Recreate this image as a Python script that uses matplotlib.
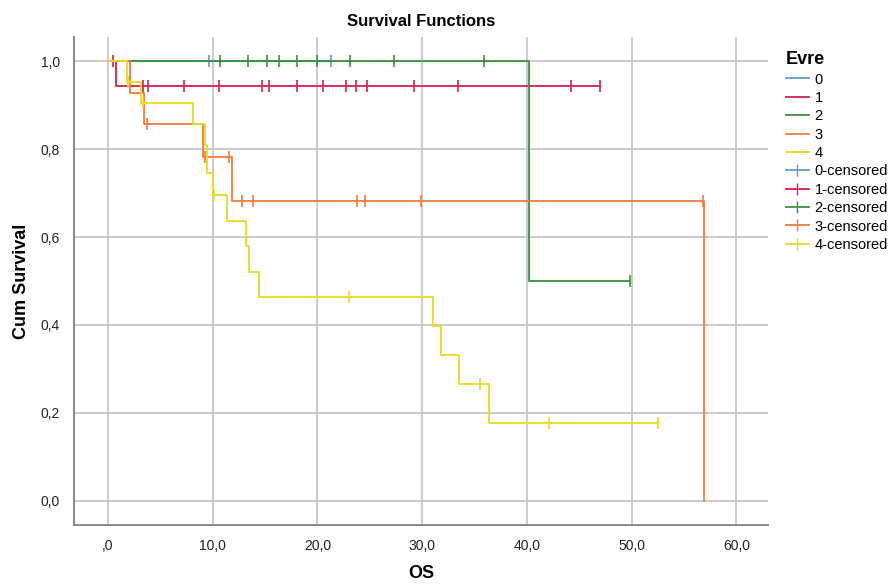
import matplotlib.pyplot as plt
from matplotlib.lines import Line2D

plt.rcParams['font.family'] = ['Liberation Sans', 'DejaVu Sans']

# step curves: event times and survival after each step
t0 = [0, 21.25]
s0 = [1.0, 1.0]
c0 = [9.67, 21.25]

t1 = [0, 0.8, 47.0]
s1 = [1.0, 0.944, 0.944]
c1 = [0.5, 3.3, 3.85, 7.25, 10.6, 14.7, 15.4, 18.0, 20.55, 22.7, 23.7, 24.7, 29.2, 33.4, 44.2, 47.0]

t2 = [0, 40.2, 49.8]
s2 = [1.0, 0.5, 0.5]
c2 = [10.7, 13.4, 15.2, 16.35, 18.0, 20.0, 23.1, 27.3, 35.9, 49.8]

t3 = [0, 2.1, 3.47, 9.1, 11.8, 56.9]
s3 = [1.0, 0.928, 0.857, 0.781, 0.683, 0.0]
c3 = [3.7, 9.3, 11.55, 12.75, 13.8, 23.8, 24.5, 29.9, 56.8]

t4 = [0, 1.8, 3.15, 8.15, 9.25, 9.5, 10.05, 11.4, 13.2, 13.5, 14.45, 31.0, 31.75, 33.5, 36.4, 52.5]
s4 = [1.0, 0.952, 0.905, 0.857, 0.81, 0.745, 0.695, 0.636, 0.58, 0.521, 0.463, 0.398, 0.331, 0.265, 0.177, 0.177]
c4 = [1.9, 3.3, 10.1, 23.0, 35.5, 42.1, 52.5]

groups = ["0", "1", "2", "3", "4"]
colors = ["#5b9bd5", "#d6204b", "#3a933a", "#f47a3c", "#eada1e"]
curves = [(t0, s0, c0), (t1, s1, c1), (t2, s2, c2), (t3, s3, c3), (t4, s4, c4)]


def surv_at(t, s, x):
    v = s[0]
    for ti, si in zip(t, s):
        if ti <= x:
            v = si
    return v


fig = plt.figure(figsize=(8.93, 5.86), dpi=100)
ax = fig.add_axes([0.0829, 0.104, 0.777, 0.833])

for (t, s, c), col in zip(curves, colors):
    ax.step(t, s, where="post", color=col, lw=1.3)
    cy = [surv_at(t, s, x) for x in c]
    ax.plot(c, cy, ls="none", marker="|", ms=9, mew=1.2, color=col)

ax.set_xlim(-3.24, 63.0)
ax.set_ylim(-0.055, 1.055)
ax.set_xticks(range(0, 61, 10))
ax.set_xticklabels([",0", "10,0", "20,0", "30,0", "40,0", "50,0", "60,0"])
ax.set_yticks([0, 0.2, 0.4, 0.6, 0.8, 1.0])
ax.set_yticklabels(["0,0", "0,2", "0,4", "0,6", "0,8", "1,0"])
ax.grid(True, color="#c8c8c8", lw=1.3)
ax.set_axisbelow(True)
ax.spines["top"].set_visible(False)
ax.spines["right"].set_visible(False)
for k in ("left", "bottom"):
    ax.spines[k].set_color("#808080")
    ax.spines[k].set_linewidth(1.3)
ax.tick_params(colors="#222222", labelsize=10, length=0, pad=10)
ax.set_title("Survival Functions", fontsize=12, fontweight="bold", pad=8)
ax.set_xlabel("OS", fontsize=13, fontweight="bold", labelpad=9)
ax.set_ylabel("Cum Survival", fontsize=13, fontweight="bold", labelpad=8)

handles = [Line2D([], [], color=c, lw=1.3) for c in colors]
handles += [Line2D([], [], color=c, lw=1.3, marker="|", ms=9) for c in colors]
labels = groups + [g + "-censored" for g in groups]
leg = fig.legend(handles, labels, loc="upper left", bbox_to_anchor=(0.865, 0.935),
                 frameon=False, fontsize=10.5, title="Evre", handlelength=1.6,
                 labelspacing=0.3, handletextpad=0.4)
leg.get_title().set_fontweight("bold")
leg.get_title().set_fontsize(13)
leg._legend_box.align = "left"

fig.savefig("out.png", dpi=100)
